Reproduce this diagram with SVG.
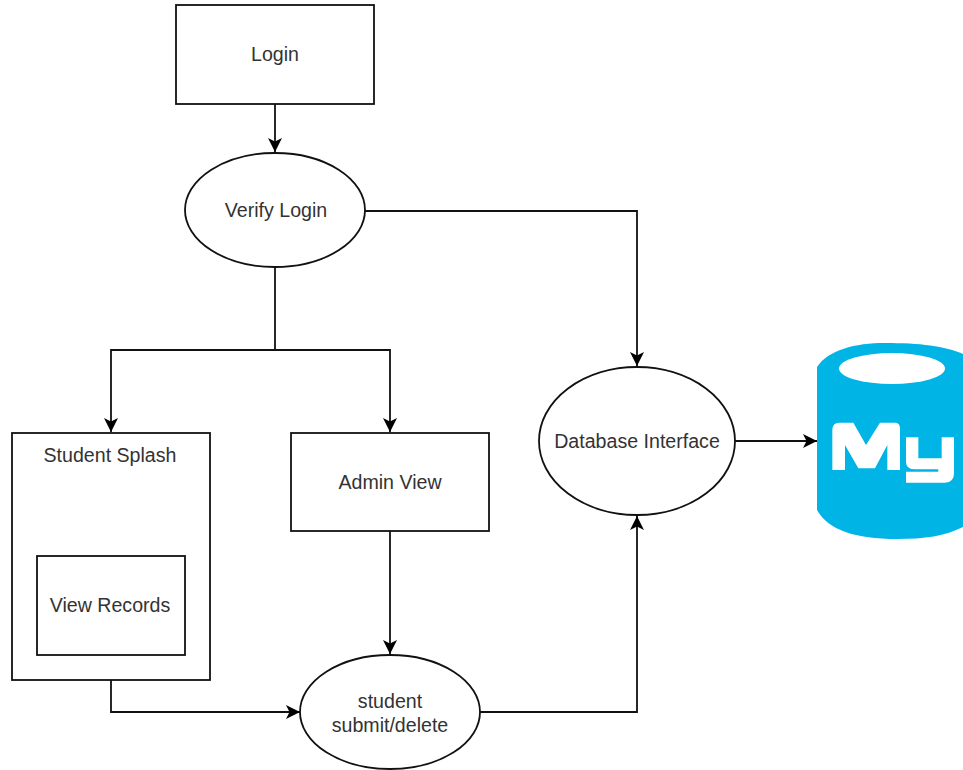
<svg xmlns="http://www.w3.org/2000/svg" width="963" height="770" viewBox="0 0 963 770">
<style>
.s{fill:#fff;stroke:#111;stroke-width:1.8}
.t{font-family:"Liberation Sans",Arial,sans-serif;font-size:19.6px;fill:#333;text-anchor:middle}
.c{fill:none;stroke:#111;stroke-width:1.8}
</style>
<defs><marker id="a" markerUnits="userSpaceOnUse" markerWidth="16" markerHeight="16" refX="14" refY="7.500" orient="auto"><path d="M0 0.500L14 7.500L0 14.500L3.500 7.500Z" fill="#000"/></marker></defs>
<rect width="963" height="770" fill="#fff"/>
<g id="connectors">
<path class="c" marker-end="url(#a)" d="M275 104V152"/>
<path class="c" marker-end="url(#a)" d="M275 268V350H111V432"/>
<path class="c" marker-end="url(#a)" d="M275 350H390V432"/>
<path class="c" marker-end="url(#a)" d="M365 211H637V366"/>
<path class="c" marker-end="url(#a)" d="M735 441H817"/>
<path class="c" marker-end="url(#a)" d="M390 531V654"/>
<path class="c" marker-end="url(#a)" d="M111 680V712H300"/>
<path class="c" marker-end="url(#a)" d="M480 712H637V516"/>
</g>
<g id="login"><rect class="s" x="176" y="5" width="198" height="99"/><text class="t" x="275" y="61">Login</text></g>
<g id="verify"><ellipse class="s" cx="275" cy="210" rx="90" ry="57"/><text class="t" x="276" y="217">Verify Login</text></g>
<g id="student"><rect class="s" x="12" y="433" width="198" height="247"/><text class="t" x="110" y="462">Student Splash</text></g>
<g id="records"><rect class="s" x="37" y="556" width="148" height="99"/><text class="t" x="110" y="612">View Records</text></g>
<g id="admin"><rect class="s" x="291" y="433" width="198" height="98"/><text class="t" x="390" y="489">Admin View</text></g>
<g id="db"><ellipse class="s" cx="637" cy="441" rx="98" ry="74"/><text class="t" x="637" y="448">Database Interface</text></g>
<g id="submit"><ellipse class="s" cx="390" cy="712" rx="90" ry="57"/><text class="t" x="390" y="708">student</text><text class="t" x="390" y="732">submit/delete</text></g>
<g id="mysql"><path d="M817 367C828 350 855 343 885 343C920 343 945 346 963 354V527C945 536 925 539 897 539C855 539 828 530 817 510Z" fill="#00b4e6"/><ellipse cx="892" cy="368.500" rx="53" ry="15.500" fill="#fff"/>
<g fill="#fff" transform="translate(800 330) scale(.33333)">
<path d="M97 300Q97 278 118 278H160L198 345L240 278H285Q300 278 300 295V420H262V345L225 415H175L135 345V420H97Z"/>
<path d="M318 322H355V385H425V322H462V430Q462 458 435 458H318V425H415V418H345Q318 418 318 395Z"/>
</g></g>
</svg>
